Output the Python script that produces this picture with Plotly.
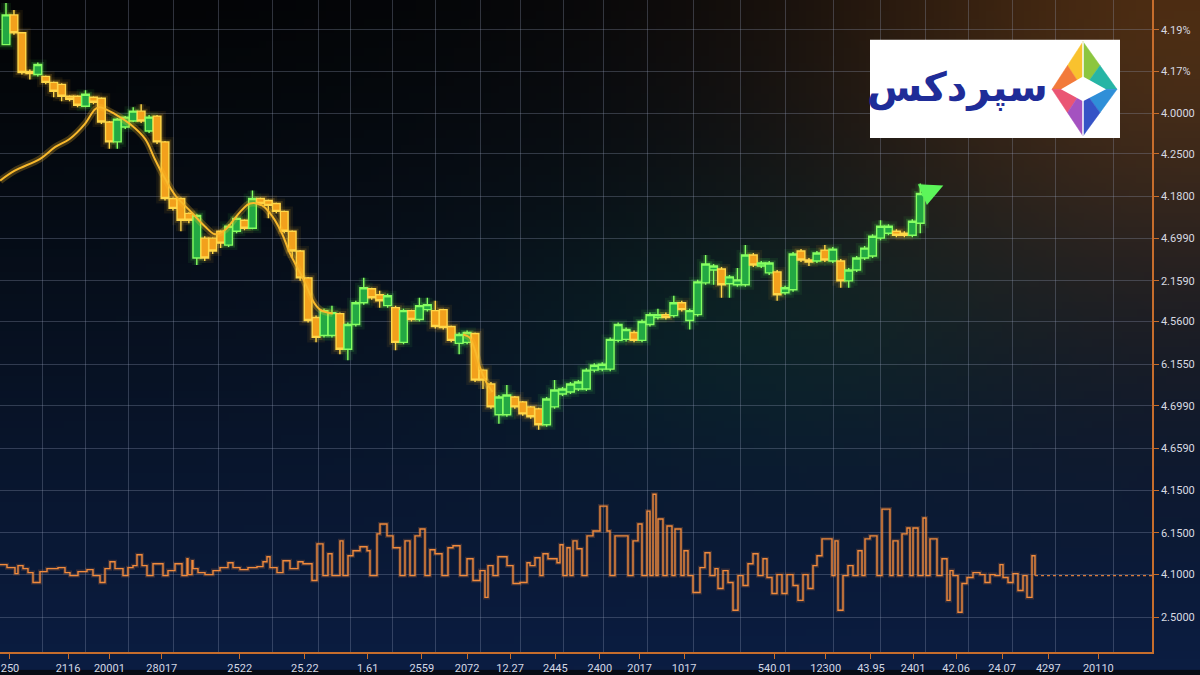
import base64
import math
import struct
import zlib

import plotly.graph_objects as go

# ---------------- data ----------------
opens = [6.55, 6.85, 6.67, 6.28, 6.25, 6.23, 6.17, 6.15, 6.03, 6.03,
         5.93, 6.02, 6.01, 5.77, 5.57, 5.72, 5.78, 5.88, 5.68, 5.83,
         5.57, 5.00, 5.00, 4.85, 4.40, 4.60, 4.60, 4.67, 4.53, 4.67,
         4.78, 4.70, 5.00, 4.98, 4.95, 4.87, 4.67, 4.47, 4.20, 3.80,
         3.62, 3.62, 3.84, 3.48, 3.73, 3.95, 4.09, 4.03, 3.92, 3.90,
         3.55, 3.87, 3.78, 3.88, 3.87, 3.88, 3.71, 3.54, 3.55, 3.64,
         3.27, 3.13, 2.82, 2.82, 3.00, 2.95, 2.90, 2.88, 2.72, 2.90,
         3.03, 3.05, 3.08, 3.08, 3.27, 3.28, 3.28, 3.57, 3.58, 3.65,
         3.57, 3.73, 3.80, 3.83, 3.82, 3.95, 3.77, 3.83, 4.15, 4.28,
         4.29, 4.14, 4.13, 4.13, 4.43, 4.32, 4.25, 4.26, 4.05, 4.08,
         4.47, 4.38, 4.37, 4.48, 4.37, 4.37, 4.17, 4.28, 4.40, 4.42,
         4.60, 4.65, 4.67, 4.65, 4.63, 4.75]
closes = [6.85, 6.67, 6.27, 6.26, 6.35, 6.17, 6.08, 6.03, 6.00, 5.94,
          6.05, 5.97, 5.77, 5.57, 5.80, 5.82, 5.88, 5.78, 5.82, 5.57,
          5.00, 4.90, 4.78, 4.78, 4.83, 4.40, 4.47, 4.55, 4.72, 4.80,
          4.70, 5.00, 4.95, 4.93, 4.87, 4.67, 4.47, 4.20, 3.77, 3.60,
          3.87, 3.85, 3.48, 3.73, 3.95, 4.10, 4.00, 3.97, 4.02, 3.55,
          3.87, 3.78, 3.92, 3.93, 3.71, 3.70, 3.57, 3.63, 3.65, 3.17,
          3.17, 2.90, 3.00, 3.02, 2.90, 2.83, 2.80, 2.72, 2.98, 3.07,
          3.08, 3.13, 3.15, 3.27, 3.32, 3.33, 3.58, 3.73, 3.68, 3.57,
          3.76, 3.83, 3.83, 3.80, 3.95, 3.88, 3.87, 4.16, 4.34, 4.32,
          4.13, 4.21, 4.18, 4.43, 4.33, 4.35, 4.35, 4.03, 4.10, 4.44,
          4.38, 4.36, 4.45, 4.38, 4.49, 4.17, 4.28, 4.40, 4.50, 4.62,
          4.72, 4.72, 4.63, 4.63, 4.77, 5.05]
highs = [6.97, 6.90, 6.67, 6.30, 6.37, 6.24, 6.18, 6.16, 6.04, 6.04,
         6.09, 6.03, 6.02, 5.78, 5.81, 5.83, 5.92, 5.95, 5.84, 5.84,
         5.58, 5.01, 5.01, 4.86, 4.84, 4.62, 4.61, 4.68, 4.74, 4.82,
         4.79, 5.08, 5.01, 4.99, 4.96, 4.88, 4.68, 4.48, 4.21, 3.82,
         3.89, 3.92, 3.85, 3.75, 3.97, 4.20, 4.10, 4.07, 4.04, 3.92,
         3.89, 3.88, 4.00, 4.00, 3.97, 3.89, 3.72, 3.65, 3.67, 3.65,
         3.28, 3.15, 3.02, 3.12, 3.01, 2.96, 2.91, 2.89, 3.00, 3.17,
         3.10, 3.15, 3.17, 3.29, 3.34, 3.35, 3.60, 3.75, 3.70, 3.67,
         3.78, 3.85, 3.89, 3.85, 4.02, 3.97, 3.89, 4.18, 4.43, 4.34,
         4.31, 4.23, 4.30, 4.53, 4.45, 4.37, 4.37, 4.28, 4.12, 4.46,
         4.49, 4.40, 4.47, 4.53, 4.51, 4.39, 4.30, 4.42, 4.52, 4.64,
         4.78, 4.74, 4.69, 4.67, 4.79, 5.15]
lows = [6.55, 6.65, 6.25, 6.20, 6.23, 6.15, 6.02, 5.98, 5.98, 5.92,
        5.92, 5.95, 5.75, 5.50, 5.50, 5.70, 5.77, 5.76, 5.66, 5.55,
        4.98, 4.88, 4.67, 4.75, 4.33, 4.37, 4.44, 4.50, 4.51, 4.65,
        4.68, 4.69, 4.93, 4.80, 4.85, 4.65, 4.40, 4.17, 3.75, 3.55,
        3.60, 3.60, 3.43, 3.37, 3.71, 3.93, 3.98, 3.90, 3.90, 3.47,
        3.53, 3.76, 3.76, 3.86, 3.69, 3.68, 3.55, 3.43, 3.53, 3.15,
        3.08, 2.88, 2.73, 2.80, 2.88, 2.81, 2.78, 2.67, 2.70, 2.88,
        3.01, 3.03, 3.06, 3.06, 3.25, 3.26, 3.26, 3.55, 3.56, 3.55,
        3.55, 3.71, 3.78, 3.78, 3.80, 3.86, 3.68, 3.81, 4.13, 4.13,
        4.00, 4.00, 4.11, 4.11, 4.31, 4.30, 4.23, 3.97, 4.03, 4.06,
        4.36, 4.32, 4.35, 4.36, 4.35, 4.10, 4.10, 4.26, 4.38, 4.40,
        4.58, 4.63, 4.61, 4.61, 4.61, 4.65]
candle_idx = list(range(len(opens)))

# moving-average line (x in candle index units)
ma_x = [-0.75, 1.1, 4.3, 6.2, 8.0, 9.9, 11.2, 11.8, 13.7, 15.6, 17.5, 18.7, 20.0,
        21.3, 23.1, 25.0, 26.3, 27.5, 29.4, 30.7, 32.2, 33.5, 34.7, 35.7, 37.0,
        37.9, 38.6, 39.5, 41.1, None, 57.5, 58.3, 59.0, 59.6, 60.4, 61.2]
ma_y = [5.18, 5.28, 5.40, 5.52, 5.60, 5.75, 5.90, 5.92, 5.85, 5.75, 5.60, 5.40, 5.20,
        5.03, 4.88, 4.72, 4.64, 4.68, 4.86, 4.95, 4.93, 4.82, 4.65, 4.45, 4.25,
        4.10, 3.97, 3.88, 3.84, None, 3.63, 3.60, 3.47, 3.30, 3.15, 3.05]

# lower oscillator (step series)
osc_t = [0, 7, 15, 18, 23, 28, 33, 40, 47, 58, 65, 70, 78, 87, 93, 100, 105, 110, 115, 123,
         128, 133, 137, 142, 147, 153, 163, 168, 175, 182, 187, 188, 192, 193, 198, 205, 213, 220, 228, 233,
         240, 248, 257, 263, 267, 270, 277, 283, 290, 298, 303, 312, 317, 323, 328, 332, 340, 343, 348, 353,
         360, 367, 370, 377, 380, 387, 393, 400, 405, 410, 415, 420, 425, 430, 435, 442, 448, 453, 460, 467,
         473, 480, 485, 488, 493, 498, 507, 513, 520, 527, 530, 535, 540, 543, 548, 557, 560, 563, 567, 570,
         573, 577, 582, 587, 593, 600, 607, 610, 615, 628, 633, 638, 642, 647, 650, 653, 656, 658, 663, 667,
         672, 675, 681, 684, 688, 693, 700, 705, 710, 715, 718, 723, 728, 733, 738, 743, 748, 753, 758, 763,
         767, 772, 777, 782, 787, 793, 798, 803, 808, 813, 817, 822, 832, 835, 838, 843, 848, 853, 858, 862,
         865, 870, 877, 882, 890, 893, 898, 902, 907, 910, 913, 918, 923, 926, 930, 937, 942, 947, 950, 953,
         958, 962, 967, 973, 980, 985, 990, 995, 1000, 1003, 1008, 1013, 1018, 1023, 1027, 1032, 1035]
osc_v = [11, 8, 2, 10, 7, 3, -7, 4, 7, 8, 3, 0, 4, 6, 0, -7, 7, 14, 7, 0,
         8, 10, 21, 10, 0, 12, 0, 5, 12, 0, 17, 1, 15, 7, 3, 1, 5, 8, 13, 8,
         6, 8, 9, 14, 19, 8, 3, 15, 7, 14, 12, -5, 32, 0, 22, 0, 35, 0, 20, 25,
         29, 25, 0, 42, 52, 40, 28, 0, 35, 0, 40, 47, 0, 26, 22, 0, 28, 30, 0, 17,
         -5, 5, -22, 10, 0, 19, 10, -8, -7, 13, 10, 18, 0, 22, 17, 13, 31, 0, 28, 0,
         35, 27, 0, 40, 45, 70, 45, 0, 40, 0, 35, 52, 0, 65, 0, 82, 0, 57, 0, 50,
         0, 47, 0, 25, 0, -17, 8, 23, 0, 7, -13, 5, -7, -35, 0, -10, 12, 22, 0, 17,
         -2, -18, 1, -18, 1, -10, -25, 1, -13, 10, 20, 37, 0, 35, -35, 0, 10, 0, 25, 0,
         37, 40, 0, 67, 0, 35, 0, 42, 48, 0, 48, 0, 58, 0, 37, 0, 17, -25, 5, 0,
         -37, -8, -2, 3, 1, -7, 1, 0, 11, -2, -7, 2, -15, 0, -22, 20, 0]

# axis labels
price_ticks = [6.70, 6.28, 5.86, 5.45, 5.02, 4.60, 4.17, 3.76, 3.33, 2.91, 2.48, 2.06, 1.63, 1.21, 0.78]
price_labels = ["4.19%", "4.17%", "4.0000", "4.2500", "4.1800", "4.6990", "2.1590", "4.5600",
                "6.1550", "4.6990", "4.6590", "4.1500", "6.1500", "4.1000", "2.5000"]
time_ticks = [0.5, 7.8, 13.0, 19.6, 29.4, 37.6, 45.5, 52.3, 58.0, 63.4, 69.1,
              74.7, 79.7, 85.3, 96.7, 103.1, 108.8, 114.1, 119.5, 125.3, 131.1, 137.4]
time_labels = ["250", "2116", "20001", "28017", "2522", "25.22", "1.61", "2559", "2072", "12.27", "2445",
               "2400", "2017", "1017", "540.01", "12300", "43.95", "2401", "42.06", "24.07", "4297", "20110"]
grid_t = [42, 85, 128, 173, 218, 272, 318, 350, 392, 435, 480, 520, 563, 603, 647,
          693, 740, 785, 833, 880, 925, 968, 1012, 1055, 1113]

# ---------------- figure geometry ----------------
W, H = 1200, 675
ML, MR, MT, MB = 0, 48, 0, 18
PW, PH = W - ML - MR, H - MT - MB


# ---------------- background gradient image ----------------
def make_bg(w=160, h=90):
    rows = []
    for j in range(h):
        fy = j / (h - 1) * H
        row = bytearray()
        for i in range(w):
            fx = i / (w - 1) * W
            t = fy / H
            r = 5 + 6 * t
            g = 7 + 22 * t
            b = 11 + 55 * t ** 1.2
            d = math.exp(-((fx / 500) ** 2 + (fy / 380) ** 2))
            r -= 2 * d; g -= 3 * d; b -= 5 * d
            wg = math.exp(-(((W - fx) / 380) ** 2 + (fy / 300) ** 2))
            r += 72 * wg; g += 38 * wg; b += 8 * wg
            gg = math.exp(-(((fx - 760) / 260) ** 2 + ((fy - 330) / 140) ** 2))
            g += 14 * gg; b += 4 * gg
            row += bytes([max(0, min(255, int(r))), max(0, min(255, int(g))), max(0, min(255, int(b)))])
        rows.append(bytes(row))

    def chunk(tag, data):
        return struct.pack('>I', len(data)) + tag + data + struct.pack('>I', zlib.crc32(tag + data) & 0xffffffff)

    raw = b''.join(b'\x00' + r for r in rows)
    png = (b'\x89PNG\r\n\x1a\n' + chunk(b'IHDR', struct.pack('>IIBBBBB', w, h, 8, 2, 0, 0, 0))
           + chunk(b'IDAT', zlib.compress(raw, 9)) + chunk(b'IEND', b''))
    return 'data:image/png;base64,' + base64.b64encode(png).decode()


fig = go.Figure()

# candle glow layers
for wdt, alpha in [(10, 0.07), (5, 0.17)]:
    fig.add_trace(go.Candlestick(
        x=candle_idx, open=opens, high=highs, low=lows, close=closes,
        increasing=dict(line=dict(color=f'rgba(90,255,80,{alpha})', width=wdt),
                        fillcolor=f'rgba(90,255,80,{alpha})'),
        decreasing=dict(line=dict(color=f'rgba(255,190,40,{alpha})', width=wdt),
                        fillcolor=f'rgba(255,190,40,{alpha})'),
        whiskerwidth=0, hoverinfo='skip', showlegend=False))

# main candles
fig.add_trace(go.Candlestick(
    x=candle_idx, open=opens, high=highs, low=lows, close=closes,
    increasing=dict(line=dict(color='#86ff62', width=1.4), fillcolor='#23a843'),
    decreasing=dict(line=dict(color='#ffd84a', width=1.4), fillcolor='#f2a01c'),
    whiskerwidth=0, showlegend=False, name='price'))

# moving average (glow + line)
fig.add_trace(go.Scatter(x=ma_x, y=ma_y, mode='lines', line=dict(color='rgba(255,190,40,0.25)', width=7, shape='spline'),
                         hoverinfo='skip', showlegend=False, connectgaps=False))
fig.add_trace(go.Scatter(x=ma_x, y=ma_y, mode='lines', line=dict(color='#f9b92c', width=2, shape='spline'),
                         showlegend=False, connectgaps=False, name='MA'))

# oscillator
fig.add_trace(go.Scatter(x=osc_t, y=osc_v, xaxis='x2', yaxis='y2', mode='lines',
                         line=dict(color='rgba(255,140,60,0.18)', width=4, shape='hv'),
                         hoverinfo='skip', showlegend=False))
fig.add_trace(go.Scatter(x=osc_t, y=osc_v, xaxis='x2', yaxis='y2', mode='lines',
                         line=dict(color='#f08a3c', width=1.4, shape='hv'), showlegend=False, name='osc'))
fig.add_trace(go.Scatter(x=[osc_t[-1], PW], y=[0, 0], xaxis='x2', yaxis='y2', mode='lines',
                         line=dict(color='#d8783a', width=1.2, dash='dot'), showlegend=False, hoverinfo='skip'))

# arrow at the last candle
n = len(opens)
fig.add_annotation(x=n - 1 + 2.9, y=closes[-1] + 0.08, ax=n - 1, ay=closes[-1] - 0.02,
                   xref='x', yref='y', axref='x', ayref='y', showarrow=True, text='',
                   arrowhead=2, arrowsize=1.3, arrowwidth=3.5, arrowcolor='#5cf55a')


# ---------------- logo ----------------
def P(x, y):
    return f'{x / PW:.5f},{1 - y / PH:.5f}'


def poly(pts):
    return 'M ' + ' L '.join(P(x, y) for x, y in pts) + ' Z'


shapes = []
shapes.append(dict(type='rect', xref='paper', yref='paper', x0=870 / PW, x1=1120 / PW,
                   y0=1 - 139 / PH, y1=1 - 40 / PH, fillcolor='white', line=dict(width=0), layer='above'))
top, left, right, bot, cen = (1083, 42), (1052, 90), (1117, 90), (1083, 137), (1083, 90)
m_ul, m_ur, m_ll, m_lr = (1067.5, 66), (1100, 66), (1067.5, 113.5), (1100, 113.5)
tris = [([top, m_ul, cen], '#f9c22e'), ([m_ul, left, cen], '#f27a3a'),
        ([top, m_ur, cen], '#8cc63f'), ([m_ur, right, cen], '#26b5a5'),
        ([left, m_ll, cen], '#ea5574'), ([m_ll, bot, cen], '#a452c0'),
        ([right, m_lr, cen], '#2f8fd8'), ([m_lr, bot, cen], '#3553c6')]
for pts, col in tris:
    shapes.append(dict(type='path', xref='paper', yref='paper', path=poly(pts), fillcolor=col,
                       line=dict(color=col, width=0.5), layer='above'))
shapes.append(dict(type='path', xref='paper', yref='paper',
                   path=poly([(1061, 90), (1083, 77), (1106, 90), (1083, 102)]),
                   fillcolor='white', line=dict(width=0), layer='above'))
shapes.append(dict(type='path', xref='paper', yref='paper',
                   path='M ' + P(1083, 42) + ' L ' + P(1083, 137), line=dict(color='white', width=1.5),
                   layer='above'))

fig.add_annotation(xref='paper', yref='paper', x=1050 / PW, y=1 - 62 / PH, showarrow=False,
                   text='<b>سپردکس</b>', font=dict(family='DejaVu Sans', size=40, color='#1f2c98',
                                                  weight='bold'))

# ---------------- layout ----------------
axis_col = '#c66d2c'
grid_col = 'rgba(150,160,185,0.30)'
fig.update_layout(
    width=W, height=H, margin=dict(l=ML, r=MR, t=MT, b=MB),
    paper_bgcolor='#070b14', plot_bgcolor='rgba(0,0,0,0)',
    boxgap=0.03, boxgroupgap=0, boxmode='overlay', showlegend=False, shapes=shapes,
    images=[dict(source=make_bg(), xref='paper', yref='paper', x=0, y=1,
                 sizex=W / PW, sizey=H / PH, xanchor='left', yanchor='top',
                 sizing='stretch', layer='below')],
    xaxis=dict(range=[-0.755, 144.15], tickvals=time_ticks, ticktext=time_labels,
               showgrid=False, zeroline=False, showline=True, linecolor=axis_col, linewidth=1.5,
               ticks='outside', ticklen=5, tickcolor=axis_col,
               tickfont=dict(family='Roboto', size=11, color='#d4d8e4'),
               rangeslider=dict(visible=False), fixedrange=True),
    yaxis=dict(range=[0.43, 7.0], side='right', tickvals=price_ticks, ticktext=price_labels,
               showgrid=True, gridcolor=grid_col, gridwidth=1, zeroline=False,
               showline=True, linecolor=axis_col, linewidth=1.5, ticks='outside', ticklen=5,
               tickcolor=axis_col, tickfont=dict(family='Roboto', size=11, color='#d8dae2'),
               fixedrange=True),
    xaxis2=dict(overlaying='x', anchor='y2', range=[0, PW], tickvals=grid_t, showgrid=True,
                gridcolor=grid_col, gridwidth=1, showticklabels=False, ticks='', showline=False,
                zeroline=False, fixedrange=True),
    yaxis2=dict(overlaying='y', anchor='x2', range=[-77, 580], showgrid=False, showticklabels=False,
                ticks='', showline=False, zeroline=False, fixedrange=True),
)

fig.write_html('out.html', config={'displayModeBar': False},
               post_script="document.body.style.margin='0';document.body.style.background='#070b14';")
